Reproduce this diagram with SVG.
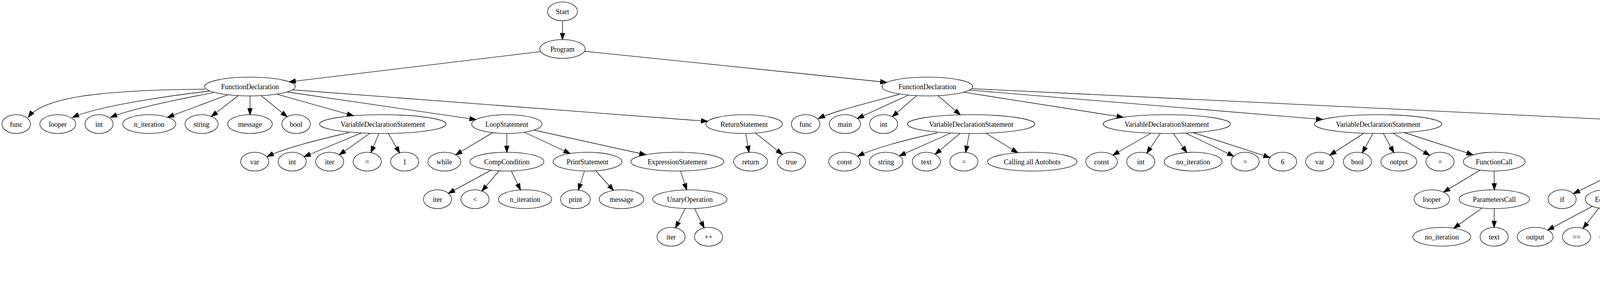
<svg xmlns="http://www.w3.org/2000/svg" width="5819" height="731" viewBox="0 0 5819 731">
<defs>
<style>
.n ellipse{fill:none;stroke:#000;stroke-width:1.33}
.n text{font-family:"Liberation Serif","Times New Roman",serif;font-size:18px;text-anchor:middle;fill:#000}
#edges path{fill:none;stroke:#000;stroke-width:1.33;marker-end:url(#ah)}
</style>
<marker id="ah" markerUnits="userSpaceOnUse" markerWidth="16" markerHeight="12" refX="13.33" refY="4.67" orient="auto" viewBox="0 0 13.33 9.33" style="overflow:visible">
<path d="M0,0 L13.33,4.67 L0,9.33 Z" fill="#000" stroke="#000" stroke-width="1.33"/>
</marker>
</defs>
<rect width="5819" height="731" fill="#fff"/>
<g id="edges">
<path d="M1440,53.2 L1440,101.2"/>
<path d="M1384.3,131.9 L740.3,209.2"/>
<path d="M1496.3,131 L2270.1,210.5"/>
<path d="M525,228 C250,230 110,250 72.5,299.5"/>
<path d="M536,233 C420,246 250,272 185.6,300"/>
<path d="M547,236.7 C450,255 330,280 283.2,300"/>
<path d="M583.6,242.2 L428.8,299.8"/>
<path d="M610.1,244.4 L541,297.8"/>
<path d="M640,245.2 L640,293.2"/>
<path d="M668.6,244.5 L735,298.5"/>
<path d="M708.6,240.6 L904.7,295.9"/>
<path d="M734.7,235 L1218.6,305.7"/>
<path d="M748.9,229.5 L1811.4,310.1"/>
<path d="M893,339 C820,356 730,378 684,400"/>
<path d="M925.4,339.8 L778.6,400.5"/>
<path d="M946.7,340.7 L868.7,395.7"/>
<path d="M970,341.2 L949.6,390.1"/>
<path d="M994,341.1 L1023,390.8"/>
<path d="M1260.9,339.1 L1166.5,395.8"/>
<path d="M1297.5,341.2 L1297.5,389.2"/>
<path d="M1342.3,338 L1459.5,392.5"/>
<path d="M1366.9,332.5 L1653.6,395.5"/>
<path d="M1257.3,434.9 L1148,494.1"/>
<path d="M1277.6,436.7 L1233.7,488.3"/>
<path d="M1309,437 L1332.5,485.5"/>
<path d="M1496.3,437.1 L1480.6,485.7"/>
<path d="M1525.1,436.5 L1570.7,486.8"/>
<path d="M1742,437.1 L1758,485.3"/>
<path d="M1754.1,533 L1729.4,582.4"/>
<path d="M1777.9,533 L1802.6,582.4"/>
<path d="M1909.1,341.2 L1917.4,389.3"/>
<path d="M1933.9,340.1 L2002.8,394.8"/>
<path d="M2302,241 C2230,262 2140,282 2095,303"/>
<path d="M2326,243 L2194.9,302.7"/>
<path d="M2346.8,244.5 L2284.1,298.3"/>
<path d="M2401.2,244.5 L2458.4,293.5"/>
<path d="M2466.5,235.7 L2875.4,299.7"/>
<path d="M2481.7,230.2 L3386.1,305.4"/>
<path d="M2487,226.6 L4248.6,311.45"/>
<path d="M2400,339.5 C2320,357 2240,378 2196,399"/>
<path d="M2434.4,340 L2302.2,398.3"/>
<path d="M2457.8,340.8 L2393.9,394.4"/>
<path d="M2481.4,341.2 L2472.1,389.4"/>
<path d="M2524,340.5 L2605.5,390.5"/>
<path d="M2946.6,340.5 L2849.1,396.5"/>
<path d="M2970.5,341.1 L2935.6,391.4"/>
<path d="M3003.8,341.1 L3038.1,389.8"/>
<path d="M3034.9,340.1 L3158.3,399.2"/>
<path d="M3054.5,339 L3251.1,402.7"/>
<path d="M3491.6,340.6 L3404.4,396.6"/>
<path d="M3514.8,341.1 L3487.4,390.7"/>
<path d="M3541.2,341.1 L3568.3,390.1"/>
<path d="M3566.5,340.5 L3659.9,397.1"/>
<path d="M3595.6,339 L3770.9,395.7"/>
<path d="M3789.4,434.6 L3695.5,491.1"/>
<path d="M3825,437.2 L3825.5,485.2"/>
<path d="M3794,531.7 L3721.6,583.4"/>
<path d="M3825.3,533.2 L3825,581.2"/>
<path d="M4327,339.8 L4231.4,392.6"/>
<path d="M4426.3,338.3 L4577.9,393.3"/>
<path d="M4478.1,327.9 L5274.8,405.3"/>
<path d="M4153.5,433.2 L4028,494.9"/>
<path d="M4173.9,436.3 L4129.9,486.9"/>
<path d="M4213.5,436.3 L4255.3,485.8"/>
<path d="M4076.4,527.3 L3962.2,588.1"/>
<path d="M4093,531.8 L4052.5,583.9"/>
<path d="M4116.2,533.1 L4127.8,581.5"/>
<path d="M4264.7,533 L4243.5,582.1"/>
<path d="M4297.8,532.4 L4347,582.3"/>
<path d="M4605.2,436.2 L4540.8,489.5"/>
<path d="M4633,437.2 L4633.5,485.2"/>
<path d="M4673.8,435.1 L4772.1,487.8"/>
<path d="M4713.9,427 L5112.9,495.4"/>
<path d="M4607.4,530 L4538.2,585.1"/>
<path d="M4629.9,533.1 L4622.6,581.3"/>
<path d="M4652.5,531.5 L4697.3,584.3"/>
<path d="M4812,533.2 L4812.5,581.2"/>
<path d="M4848.4,531.1 L4935,583"/>
<path d="M5178.9,532.9 L5148.4,582.6"/>
<path d="M5208,532.9 L5237.9,582.1"/>
<path d="M5241.9,530.1 L5369,584.9"/>
<path d="M5223.7,625.3 L5144.2,681.9"/>
<path d="M5244.8,629 L5230.1,677.7"/>
<path d="M5267.8,628.1 L5303.4,679.4"/>
<path d="M5416,629.2 L5416,677.2"/>
<path d="M5447.4,627.6 L5519.9,683.4"/>
<path d="M5356,437.2 L5356.5,485.2"/>
<path d="M5400.8,433.7 L5520.9,488.6"/>
<path d="M5566,533.2 L5567,581.2"/>
<path d="M5601.6,531.2 L5685.7,583.1"/>
</g>
<g id="n_start" class="n"><ellipse cx="1440" cy="29.2" rx="38.3" ry="24"/><text x="1440" y="36.2">Start</text></g>
<g id="n_program" class="n"><ellipse cx="1440" cy="125.2" rx="58" ry="24"/><text x="1440" y="132.2">Program</text></g>
<g id="n_fd1" class="n"><ellipse cx="640" cy="221.2" rx="116" ry="24"/><text x="640" y="228.2">FunctionDeclaration</text></g>
<g id="n_fd2" class="n"><ellipse cx="2374" cy="221.2" rx="116" ry="24"/><text x="2374" y="228.2">FunctionDeclaration</text></g>
<g id="n_func1" class="n"><ellipse cx="41.5" cy="317.2" rx="36.5" ry="24"/><text x="41.5" y="324.2">func</text></g>
<g id="n_looper1" class="n"><ellipse cx="148" cy="317.2" rx="46" ry="24"/><text x="148" y="324.2">looper</text></g>
<g id="n_int1" class="n"><ellipse cx="253.5" cy="317.2" rx="36" ry="24"/><text x="253.5" y="324.2">int</text></g>
<g id="n_niter1" class="n"><ellipse cx="382" cy="317.2" rx="68" ry="24"/><text x="382" y="324.2">n_iteration</text></g>
<g id="n_string1" class="n"><ellipse cx="516" cy="317.2" rx="42.5" ry="24"/><text x="516" y="324.2">string</text></g>
<g id="n_message1" class="n"><ellipse cx="640" cy="317.2" rx="57" ry="24"/><text x="640" y="324.2">message</text></g>
<g id="n_bool1" class="n"><ellipse cx="758" cy="317.2" rx="36.5" ry="24"/><text x="758" y="324.2">bool</text></g>
<g id="n_vds1" class="n"><ellipse cx="980" cy="317.2" rx="162" ry="24"/><text x="980" y="324.2">VariableDeclarationStatement</text></g>
<g id="n_loop" class="n"><ellipse cx="1297.5" cy="317.2" rx="90" ry="24"/><text x="1297.5" y="324.2">LoopStatement</text></g>
<g id="n_ret" class="n"><ellipse cx="1905" cy="317.2" rx="98" ry="24"/><text x="1905" y="324.2">ReturnStatement</text></g>
<g id="n_func2" class="n"><ellipse cx="2062.5" cy="317.2" rx="36.5" ry="24"/><text x="2062.5" y="324.2">func</text></g>
<g id="n_main" class="n"><ellipse cx="2163" cy="317.2" rx="40" ry="24"/><text x="2163" y="324.2">main</text></g>
<g id="n_int2" class="n"><ellipse cx="2262" cy="317.2" rx="36" ry="24"/><text x="2262" y="324.2">int</text></g>
<g id="n_vds2" class="n"><ellipse cx="2486" cy="317.2" rx="163" ry="24"/><text x="2486" y="324.2">VariableDeclarationStatement</text></g>
<g id="n_vds3" class="n"><ellipse cx="2987" cy="317.2" rx="163" ry="24"/><text x="2987" y="324.2">VariableDeclarationStatement</text></g>
<g id="n_vds4" class="n"><ellipse cx="3528" cy="317.2" rx="163" ry="24"/><text x="3528" y="324.2">VariableDeclarationStatement</text></g>
<g id="n_cond" class="n"><ellipse cx="4368" cy="317.2" rx="123" ry="24"/><text x="4368" y="324.2">ConditionalStatement</text></g>
<g id="n_var1" class="n"><ellipse cx="652" cy="413.2" rx="36" ry="24"/><text x="652" y="420.2">var</text></g>
<g id="n_int1b" class="n"><ellipse cx="748" cy="413.2" rx="36" ry="24"/><text x="748" y="420.2">int</text></g>
<g id="n_iter1" class="n"><ellipse cx="844" cy="413.2" rx="36" ry="24"/><text x="844" y="420.2">iter</text></g>
<g id="n_eq1" class="n"><ellipse cx="940" cy="413.2" rx="36" ry="24"/><text x="940" y="420.2">=</text></g>
<g id="n_one" class="n"><ellipse cx="1036" cy="413.2" rx="36" ry="24"/><text x="1036" y="420.2">1</text></g>
<g id="n_while" class="n"><ellipse cx="1137.5" cy="413.2" rx="42" ry="24"/><text x="1137.5" y="420.2">while</text></g>
<g id="n_comp" class="n"><ellipse cx="1297.5" cy="413.2" rx="94.7" ry="24"/><text x="1297.5" y="420.2">CompCondition</text></g>
<g id="n_print1" class="n"><ellipse cx="1504" cy="413.2" rx="88" ry="24"/><text x="1504" y="420.2">PrintStatement</text></g>
<g id="n_expr" class="n"><ellipse cx="1734" cy="413.2" rx="119" ry="24"/><text x="1734" y="420.2">ExpressionStatement</text></g>
<g id="n_return" class="n"><ellipse cx="1921.5" cy="413.2" rx="43.4" ry="24"/><text x="1921.5" y="420.2">return</text></g>
<g id="n_true1" class="n"><ellipse cx="2026" cy="413.2" rx="36" ry="24"/><text x="2026" y="420.2">true</text></g>
<g id="n_const2" class="n"><ellipse cx="2162" cy="413.2" rx="40.5" ry="24"/><text x="2162" y="420.2">const</text></g>
<g id="n_string2" class="n"><ellipse cx="2268.5" cy="413.2" rx="43" ry="24"/><text x="2268.5" y="420.2">string</text></g>
<g id="n_text1" class="n"><ellipse cx="2371.5" cy="413.2" rx="36" ry="24"/><text x="2371.5" y="420.2">text</text></g>
<g id="n_eq2" class="n"><ellipse cx="2467.5" cy="413.2" rx="36" ry="24"/><text x="2467.5" y="420.2">=</text></g>
<g id="n_calling" class="n"><ellipse cx="2642.5" cy="413.2" rx="114.5" ry="24"/><text x="2642.5" y="420.2">Calling all Autobots</text></g>
<g id="n_const3" class="n"><ellipse cx="2820" cy="413.2" rx="40.5" ry="24"/><text x="2820" y="420.2">const</text></g>
<g id="n_int3" class="n"><ellipse cx="2920.5" cy="413.2" rx="36" ry="24"/><text x="2920.5" y="420.2">int</text></g>
<g id="n_noiter1" class="n"><ellipse cx="3054.5" cy="413.2" rx="74" ry="24"/><text x="3054.5" y="420.2">no_iteration</text></g>
<g id="n_eq3" class="n"><ellipse cx="3187.5" cy="413.2" rx="36" ry="24"/><text x="3187.5" y="420.2">=</text></g>
<g id="n_six" class="n"><ellipse cx="3283.5" cy="413.2" rx="36" ry="24"/><text x="3283.5" y="420.2">6</text></g>
<g id="n_var4" class="n"><ellipse cx="3378.5" cy="413.2" rx="36" ry="24"/><text x="3378.5" y="420.2">var</text></g>
<g id="n_bool4" class="n"><ellipse cx="3475" cy="413.2" rx="36" ry="24"/><text x="3475" y="420.2">bool</text></g>
<g id="n_output4" class="n"><ellipse cx="3581" cy="413.2" rx="46" ry="24"/><text x="3581" y="420.2">output</text></g>
<g id="n_eq4" class="n"><ellipse cx="3686.5" cy="413.2" rx="36" ry="24"/><text x="3686.5" y="420.2">=</text></g>
<g id="n_fcall" class="n"><ellipse cx="3825" cy="413.2" rx="79" ry="24"/><text x="3825" y="420.2">FunctionCall</text></g>
<g id="n_ifst" class="n"><ellipse cx="4194" cy="413.2" rx="73" ry="24"/><text x="4194" y="420.2">IfStatement</text></g>
<g id="n_elifs1" class="n"><ellipse cx="4633" cy="413.2" rx="99" ry="24"/><text x="4633" y="420.2">ElseIfStatements</text></g>
<g id="n_else" class="n"><ellipse cx="5356" cy="413.2" rx="86" ry="24"/><text x="5356" y="420.2">ElseStatement</text></g>
<g id="n_iter2" class="n"><ellipse cx="1120" cy="509.2" rx="36" ry="24"/><text x="1120" y="516.2">iter</text></g>
<g id="n_lt" class="n"><ellipse cx="1216" cy="509.2" rx="36" ry="24"/><text x="1216" y="516.2">&lt;</text></g>
<g id="n_niter2" class="n"><ellipse cx="1344" cy="509.2" rx="68" ry="24"/><text x="1344" y="516.2">n_iteration</text></g>
<g id="n_print2" class="n"><ellipse cx="1473" cy="509.2" rx="38" ry="24"/><text x="1473" y="516.2">print</text></g>
<g id="n_message2" class="n"><ellipse cx="1591" cy="509.2" rx="57" ry="24"/><text x="1591" y="516.2">message</text></g>
<g id="n_unary" class="n"><ellipse cx="1766" cy="509.2" rx="95" ry="24"/><text x="1766" y="516.2">UnaryOperation</text></g>
<g id="n_looper2" class="n"><ellipse cx="3665.5" cy="509.2" rx="45.6" ry="24"/><text x="3665.5" y="516.2">looper</text></g>
<g id="n_params" class="n"><ellipse cx="3825.5" cy="509.2" rx="90" ry="24"/><text x="3825.5" y="516.2">ParametersCall</text></g>
<g id="n_ifkw" class="n"><ellipse cx="3999" cy="509.2" rx="36" ry="24"/><text x="3999" y="516.2">if</text></g>
<g id="n_eqx1" class="n"><ellipse cx="4110.5" cy="509.2" rx="52" ry="24"/><text x="4110.5" y="516.2">EqExpr</text></g>
<g id="n_ps3" class="n"><ellipse cx="4275" cy="509.2" rx="88.7" ry="24"/><text x="4275" y="516.2">PrintStatement</text></g>
<g id="n_elifkw1" class="n"><ellipse cx="4517" cy="509.2" rx="41.5" ry="24"/><text x="4517" y="516.2">elseif</text></g>
<g id="n_eqx2" class="n"><ellipse cx="4633.5" cy="509.2" rx="52" ry="24"/><text x="4633.5" y="516.2">EqExpr</text></g>
<g id="n_ps4" class="n"><ellipse cx="4812" cy="509.2" rx="88" ry="24"/><text x="4812" y="516.2">PrintStatement</text></g>
<g id="n_elifs2" class="n"><ellipse cx="5193.5" cy="509.2" rx="98.5" ry="24"/><text x="5193.5" y="516.2">ElseIfStatements</text></g>
<g id="n_elsekw" class="n"><ellipse cx="5356.5" cy="509.2" rx="36" ry="24"/><text x="5356.5" y="516.2">else</text></g>
<g id="n_ps5" class="n"><ellipse cx="5566" cy="509.2" rx="88" ry="24"/><text x="5566" y="516.2">PrintStatement</text></g>
<g id="n_iter3" class="n"><ellipse cx="1718" cy="605.2" rx="36" ry="24"/><text x="1718" y="612.2">iter</text></g>
<g id="n_pp" class="n"><ellipse cx="1814" cy="605.2" rx="36" ry="24"/><text x="1814" y="612.2">++</text></g>
<g id="n_noiter2" class="n"><ellipse cx="3691" cy="605.2" rx="74" ry="24"/><text x="3691" y="612.2">no_iteration</text></g>
<g id="n_text2" class="n"><ellipse cx="3825" cy="605.2" rx="36" ry="24"/><text x="3825" y="612.2">text</text></g>
<g id="n_out1" class="n"><ellipse cx="3930" cy="605.2" rx="46" ry="24"/><text x="3930" y="612.2">output</text></g>
<g id="n_eqeq1" class="n"><ellipse cx="4036" cy="605.2" rx="36" ry="24"/><text x="4036" y="612.2">==</text></g>
<g id="n_false" class="n"><ellipse cx="4133.5" cy="605.2" rx="37.6" ry="24"/><text x="4133.5" y="612.2">false</text></g>
<g id="n_pr6" class="n"><ellipse cx="4233.5" cy="605.2" rx="38" ry="24"/><text x="4233.5" y="612.2">print</text></g>
<g id="n_loopf" class="n"><ellipse cx="4369.5" cy="605.2" rx="75" ry="24"/><text x="4369.5" y="612.2">Loop Failed</text></g>
<g id="n_out2" class="n"><ellipse cx="4513" cy="605.2" rx="46" ry="24"/><text x="4513" y="612.2">output</text></g>
<g id="n_eqeq2" class="n"><ellipse cx="4619" cy="605.2" rx="36" ry="24"/><text x="4619" y="612.2">==</text></g>
<g id="n_true2" class="n"><ellipse cx="4715" cy="605.2" rx="36" ry="24"/><text x="4715" y="612.2">true</text></g>
<g id="n_pr7" class="n"><ellipse cx="4812.5" cy="605.2" rx="38" ry="24"/><text x="4812.5" y="612.2">print</text></g>
<g id="n_fworks" class="n"><ellipse cx="4972" cy="605.2" rx="97.6" ry="24"/><text x="4972" y="612.2">Function Works!</text></g>
<g id="n_elifkw2" class="n"><ellipse cx="5134.5" cy="605.2" rx="41.5" ry="24"/><text x="5134.5" y="612.2">elseif</text></g>
<g id="n_eqx3" class="n"><ellipse cx="5252" cy="605.2" rx="52" ry="24"/><text x="5252" y="612.2">EqExpr</text></g>
<g id="n_ps8" class="n"><ellipse cx="5416" cy="605.2" rx="88" ry="24"/><text x="5416" y="612.2">PrintStatement</text></g>
<g id="n_pr9" class="n"><ellipse cx="5567" cy="605.2" rx="38" ry="24"/><text x="5567" y="612.2">print</text></g>
<g id="n_ffailed" class="n"><ellipse cx="5721.5" cy="605.2" rx="92.5" ry="24"/><text x="5721.5" y="612.2">Function Failed</text></g>
<g id="n_out3" class="n"><ellipse cx="5117" cy="701.2" rx="46" ry="24"/><text x="5117" y="708.2">output</text></g>
<g id="n_eqeq3" class="n"><ellipse cx="5223" cy="701.2" rx="36" ry="24"/><text x="5223" y="708.2">==</text></g>
<g id="n_true3" class="n"><ellipse cx="5318.5" cy="701.2" rx="36" ry="24"/><text x="5318.5" y="708.2">true</text></g>
<g id="n_pr10" class="n"><ellipse cx="5416" cy="701.2" rx="38" ry="24"/><text x="5416" y="708.2">print</text></g>
<g id="n_same" class="n"><ellipse cx="5550.5" cy="701.2" rx="73.5" ry="24"/><text x="5550.5" y="708.2">same thing!</text></g>
</svg>
